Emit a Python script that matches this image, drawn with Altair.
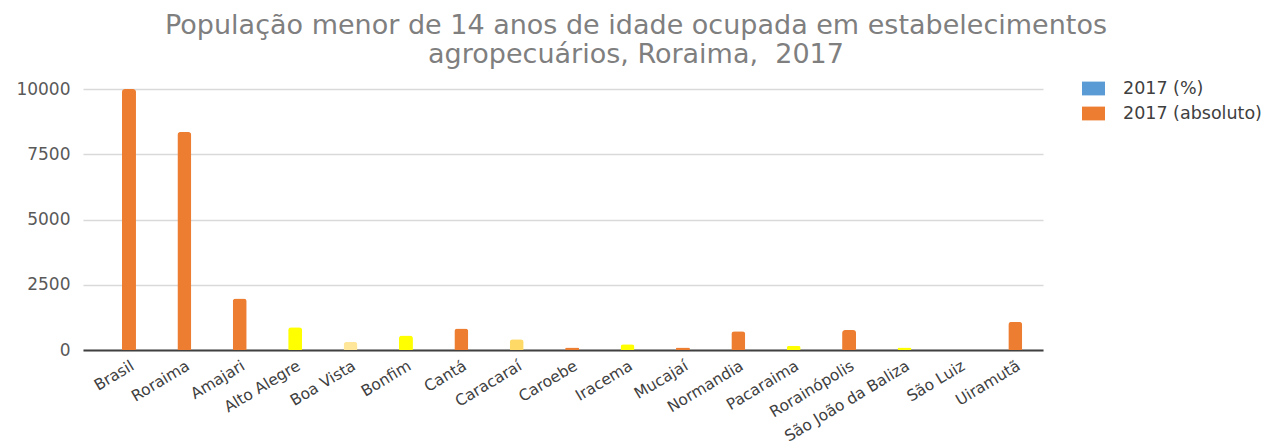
import altair as alt
import pandas as pd

municipios = ["Brasil", "Roraima", "Amajari", "Alto Alegre", "Boa Vista", "Bonfim", "Cantá",
              "Caracaraí", "Caroebe", "Iracema", "Mucajaí", "Normandia", "Pacaraima",
              "Rorainópolis", "São João da Baliza", "São Luiz", "Uiramutã"]
valores = [10000, 8350, 1970, 870, 310, 560, 820, 410, 100, 220, 100, 715, 155, 765, 100, 0, 1075]
cores = ["#ED7D31", "#ED7D31", "#ED7D31", "#FFFF00", "#FFE699", "#FFFF00", "#ED7D31",
         "#FFD966", "#ED7D31", "#FFFF00", "#ED7D31", "#ED7D31", "#FFFF00",
         "#ED7D31", "#FFFF00", "#ED7D31", "#ED7D31"]
series = ["2017 (%)", "2017 (absoluto)"]
series_cores = ["#5B9BD5", "#ED7D31"]
y_ticks = [0, 2500, 5000, 7500, 10000]
titulo = ["População menor de 14 anos de idade ocupada em estabelecimentos",
          "agropecuários, Roraima,\u00a0 2017"]

df = pd.DataFrame({"municipio": municipios, "valor": valores, "cor": cores})
leg = pd.DataFrame({"serie": series})

bars = alt.Chart(df).mark_bar(size=14, cornerRadiusTopLeft=3, cornerRadiusTopRight=3).encode(
    x=alt.X("municipio:N", sort=municipios, title=None,
            scale=alt.Scale(paddingInner=0, paddingOuter=0.165, align=1),
            axis=alt.Axis(labelAngle=-31, labelFont="DejaVu Sans", labelFontSize=15.5,
                          labelColor="#404040", ticks=False, domain=True,
                          domainColor="#404040", domainWidth=2, labelPadding=8, grid=False)),
    y=alt.Y("valor:Q", title=None, scale=alt.Scale(domain=[0, 10000], nice=False),
            axis=alt.Axis(values=y_ticks, format="d", labelFont="DejaVu Sans", labelFontSize=17,
                          labelColor="#595959", domain=False, ticks=False,
                          gridColor="#D9D9D9", gridWidth=1.5, labelPadding=13)),
    color=alt.Color("cor:N", scale=None),
)

legend_layer = alt.Chart(leg).mark_square(opacity=0).encode(
    color=alt.Color("serie:N", sort=series,
                    scale=alt.Scale(domain=series, range=series_cores),
                    legend=alt.Legend(title=None, orient="none", legendX=999, legendY=-12,
                                      symbolType="M-1,-0.6H1V0.6H-1Z", symbolSize=529,
                                      symbolOpacity=1, symbolStrokeWidth=0,
                                      labelFont="DejaVu Sans", labelFontSize=17.5,
                                      labelColor="#404040", labelOffset=18,
                                      rowPadding=5, padding=0))
)

chart = alt.layer(bars, legend_layer).properties(
    width=960, height=261,
    autosize=alt.AutoSizeParams(type="none"),
    padding={"left": 75, "top": 81, "right": 225, "bottom": 100},
    title=alt.Title(titulo, font="DejaVu Sans", fontSize=27, fontWeight="normal",
                    color="#7F7F7F", anchor="middle", dx=73, lineHeight=29, offset=8),
).configure_view(stroke=None)

chart.save("out.html", embed_options={"renderer": "svg", "actions": False})
